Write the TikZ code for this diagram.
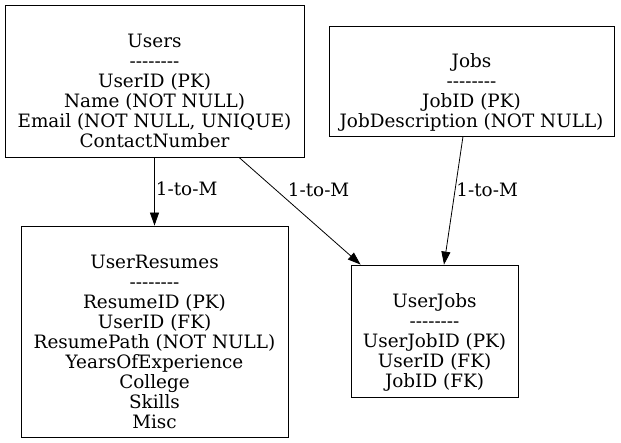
\documentclass[tikz,border=0pt]{standalone}
\usepackage{fontspec}
\setmainfont{DejaVu Serif}[Ligatures=TeXOff]
\usetikzlibrary{arrows.meta,positioning}

\begin{document}
\begin{tikzpicture}[x=1pt,y=-1pt,>={Triangle[length=13pt,width=9pt]},line width=0.8pt,
  table/.style={draw=black,rectangle,align=center,inner ysep=0pt,
    font=\fontsize{18.4}{20}\selectfont},
  rel/.style={anchor=west,inner sep=1pt,font=\fontsize{18.4}{20}\selectfont}]
\useasboundingbox (0,0) rectangle (621,443);
\node[table,minimum width=299pt,minimum height=152pt] at (154.5,81) (users)
  {\rule{0pt}{20pt}\\Users\\--------\\UserID (PK)\\Name (NOT NULL)\\Email (NOT NULL, UNIQUE)\\ContactNumber\strut};
\node[table,minimum width=285pt,minimum height=110pt] at (471.5,81) (jobs)
  {\rule{0pt}{20pt}\\Jobs\\--------\\JobID (PK)\\JobDescription (NOT NULL)\strut};
\node[table,minimum width=267pt,minimum height=211pt,below of=users,node distance=250.5pt] (resumes)
  {\rule{0pt}{20pt}\\UserResumes\\--------\\ResumeID (PK)\\UserID (FK)\\ResumePath (NOT NULL)\\YearsOfExperience\\College\\Skills\\Misc\strut};
\node[table,minimum width=167pt,minimum height=132pt] at (434.5,331) (userjobs)
  {\rule{0pt}{20pt}\\UserJobs\\--------\\UserJobID (PK)\\UserID (FK)\\JobID (FK)\strut};
% one-to-many links
\draw[->] (users.south) -- (resumes.north) node[rel,pos=0.46] {1-to-M};
\draw[->] ([xshift=84.5pt]users.south) -- ([xshift=10pt]userjobs.north west)
  node[rel,pos=0.3,xshift=11pt] {1-to-M};
\draw[->] ([xshift=-8.5pt]jobs.south) -- ([xshift=9.5pt]userjobs.north)
  node[rel,pos=0.42] {1-to-M};
\end{tikzpicture}
\end{document}
